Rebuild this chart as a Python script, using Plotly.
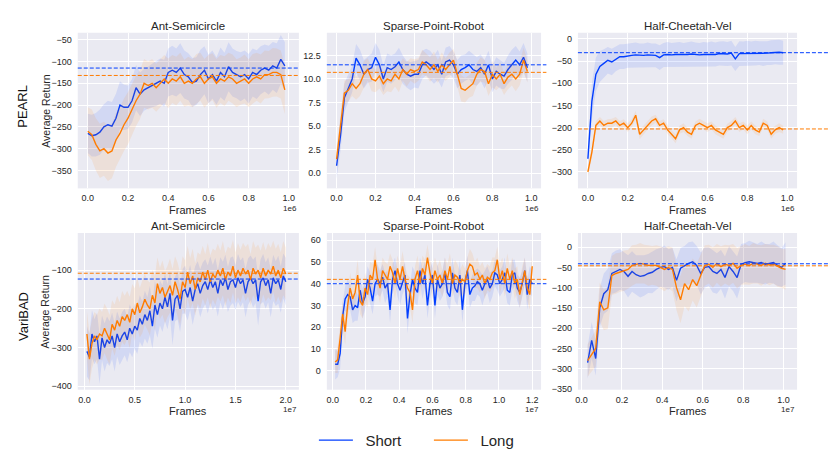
import numpy as np
import plotly.graph_objects as go

# ---- data ----
algos = ["PEARL", "VariBAD"]
envs = ["Ant-Semicircle", "Sparse-Point-Robot", "Half-Cheetah-Vel"]

# PEARL: frames in units of 1e6
frames_pearl = np.round(np.arange(50) * 0.02, 2)

pearl_ant_short = [-265, -270, -268, -262, -250, -245, -248, -230, -200, -205,
                   -205, -190, -160, -175, -165, -160, -155, -150, -145, -150,
                   -125, -120, -125, -115, -130, -135, -148, -145, -130, -120,
                   -140, -130, -145, -125, -135, -112, -125, -130, -135, -130,
                   -140, -125, -130, -120, -115, -120, -110, -115, -95, -110]
pearl_ant_long = [-260, -268, -290, -305, -300, -310, -305, -280, -265, -245,
                  -230, -210, -190, -175, -150, -155, -150, -160, -150, -140,
                  -150, -140, -145, -135, -150, -145, -150, -140, -135, -150,
                  -140, -135, -150, -140, -145, -135, -140, -150, -145, -140,
                  -150, -140, -135, -140, -130, -130, -125, -125, -130, -165]
pearl_ant_short_sd = [45, 48, 50, 52, 52, 55, 55, 56, 55, 52,
                      50, 50, 52, 50, 48, 48, 50, 52, 52, 54,
                      55, 56, 55, 57, 55, 54, 56, 55, 57, 55,
                      56, 55, 54, 57, 55, 56, 55, 54, 56, 55,
                      57, 55, 56, 55, 54, 56, 55, 57, 56, 55]
pearl_ant_long_sd = [55, 58, 60, 62, 62, 64, 63, 62, 60, 60,
                     60, 58, 58, 56, 56, 55, 56, 55, 56, 55,
                     57, 55, 56, 55, 54, 56, 55, 57, 55, 56,
                     55, 54, 56, 55, 57, 55, 56, 55, 54, 56,
                     55, 57, 55, 56, 55, 54, 56, 55, 55, 56]

pearl_sparse_short = [0.8, 4.0, 8.0, 9.0, 10.0, 12.2, 11.5, 10.5, 11.0, 11.2,
                      12.3, 11.5, 10.0, 11.2, 11.0, 11.3, 11.8, 11.0, 10.5, 10.3,
                      10.5, 10.5, 11.5, 11.8, 11.5, 11.0, 11.5, 10.5, 11.8, 12.0,
                      11.5, 10.5, 11.0, 11.2, 11.5, 11.0, 10.8, 11.2, 10.5, 11.5,
                      10.0, 10.8, 10.5, 10.3, 11.0, 11.5, 12.0, 11.5, 12.3, 11.2]
pearl_sparse_long = [1.5, 5.0, 8.5, 8.8, 9.5, 9.0, 9.5, 10.5, 11.0, 10.0,
                     9.8, 10.3, 9.5, 10.0, 9.8, 10.5, 10.0, 11.0, 10.5, 11.0,
                     10.8, 11.0, 11.8, 11.5, 11.0, 11.5, 10.8, 11.5, 11.0, 11.5,
                     12.0, 10.5, 9.0, 8.8, 9.2, 9.5, 10.5, 11.0, 10.8, 9.5,
                     10.5, 10.0, 10.5, 9.5, 10.2, 10.5, 10.0, 10.5, 12.0, 10.8]
pearl_sparse_short_sd = [1.4, 1.6, 1.5, 1.5, 1.4, 1.5, 1.6, 1.5, 1.4, 1.5,
                         1.5, 1.6, 1.4, 1.5, 1.5, 1.4, 1.5, 1.5, 1.4, 1.5,
                         1.4, 1.5, 1.5, 1.4, 1.5, 1.5, 1.6, 1.4, 1.5, 1.5,
                         1.4, 1.5, 1.5, 1.4, 1.5, 1.6, 1.5, 1.4, 1.5, 1.5,
                         1.4, 1.5, 1.5, 1.4, 1.5, 1.6, 1.5, 1.4, 1.5, 1.5]
pearl_sparse_long_sd = [1.2, 1.4, 1.3, 1.2, 1.3, 1.2, 1.3, 1.4, 1.2, 1.3,
                        1.2, 1.3, 1.2, 1.3, 1.2, 1.3, 1.4, 1.2, 1.3, 1.2,
                        1.3, 1.2, 1.3, 1.2, 1.3, 1.4, 1.2, 1.3, 1.2, 1.3,
                        1.2, 1.3, 1.4, 1.3, 1.2, 1.3, 1.2, 1.3, 1.2, 1.3,
                        1.4, 1.2, 1.3, 1.2, 1.3, 1.2, 1.3, 1.2, 1.3, 1.2]

pearl_cheetah_short = [-270, -140, -80, -62, -55, -48, -52, -45, -40, -40,
                       -38, -37, -36, -37, -37, -36, -37, -37, -42, -36,
                       -35, -36, -35, -35, -36, -35, -34, -35, -36, -35,
                       -35, -34, -35, -33, -33, -34, -32, -45, -33, -33,
                       -32, -33, -32, -32, -33, -32, -31, -30, -30, -31]
pearl_cheetah_long = [-300, -255, -195, -185, -195, -190, -190, -185, -195, -190,
                      -200, -190, -172, -215, -205, -195, -185, -180, -195, -190,
                      -205, -215, -225, -205, -200, -210, -215, -195, -190, -195,
                      -200, -195, -205, -210, -215, -200, -195, -185, -200, -195,
                      -205, -195, -205, -210, -190, -195, -215, -205, -200, -205]
pearl_cheetah_short_sd = [20, 40, 38, 35, 32, 30, 30, 28, 28, 28,
                          27, 27, 28, 27, 27, 28, 27, 27, 28, 27,
                          28, 27, 27, 28, 27, 27, 28, 27, 27, 28,
                          27, 28, 27, 27, 28, 27, 28, 27, 28, 27,
                          28, 27, 28, 27, 28, 27, 28, 27, 28, 27]
pearl_cheetah_long_sd = [10, 12, 10, 9, 10, 9, 10, 9, 10, 9,
                         10, 9, 10, 11, 10, 9, 10, 9, 10, 9,
                         10, 9, 10, 9, 10, 9, 10, 9, 10, 9,
                         10, 9, 10, 9, 10, 9, 10, 9, 10, 9,
                         10, 9, 10, 9, 10, 9, 10, 9, 10, 9]

# VariBAD: frames in units of 1e7
frames_varibad_ant = np.round(np.arange(1, 81) * 0.025, 3)
frames_varibad_sparse = np.round(np.arange(1, 81) * 0.015, 3)
frames_varibad_cheetah = np.round(0.03 + np.arange(50) * 0.02, 2)

varibad_ant_short = [-310, -325, -265, -285, -270, -330, -275, -300, -280, -290,
                     -270, -300, -265, -285, -270, -260, -280, -250, -265, -245,
                     -255, -225, -240, -215, -230, -205, -245, -190, -215, -185,
                     -200, -170, -195, -160, -230, -175, -165, -200, -155, -150,
                     -170, -145, -180, -150, -135, -160, -140, -130, -150, -125,
                     -145, -130, -160, -125, -140, -120, -150, -130, -125, -145,
                     -120, -135, -125, -160, -130, -120, -135, -125, -180, -130,
                     -120, -140, -125, -160, -120, -135, -125, -150, -115, -130]
varibad_ant_long = [-265, -330, -290, -270, -280, -265, -270, -250, -265, -280,
                    -240, -255, -230, -245, -220, -230, -215, -235, -200, -215,
                    -185, -210, -195, -175, -190, -200, -165, -185, -135, -160,
                    -145, -170, -155, -140, -165, -130, -150, -175, -130, -145,
                    -105, -135, -115, -150, -120, -130, -105, -125, -100, -130,
                    -110, -120, -100, -115, -95, -125, -105, -115, -90, -120,
                    -100, -115, -95, -110, -100, -125, -95, -110, -100, -120,
                    -95, -115, -100, -110, -90, -115, -100, -120, -95, -110]
varibad_ant_short_sd = [65, 60, 62, 58, 60, 64, 58, 62, 60, 58,
                        60, 62, 58, 60, 62, 60, 58, 62, 60, 58,
                        62, 60, 58, 62, 60, 64, 58, 62, 60, 58,
                        60, 62, 58, 60, 64, 58, 62, 60, 58, 62,
                        60, 58, 62, 60, 58, 62, 60, 58, 62, 60,
                        58, 62, 60, 58, 62, 60, 58, 62, 60, 58,
                        62, 60, 58, 62, 60, 58, 62, 60, 64, 58,
                        62, 60, 58, 62, 60, 58, 62, 60, 58, 62]
varibad_ant_long_sd = [60, 66, 64, 62, 64, 66, 62, 64, 66, 64,
                       62, 66, 64, 62, 66, 64, 62, 66, 64, 68,
                       66, 64, 68, 66, 64, 68, 66, 70, 68, 66,
                       70, 68, 66, 70, 68, 66, 70, 68, 66, 70,
                       68, 66, 70, 68, 66, 70, 68, 66, 70, 68,
                       66, 70, 68, 66, 70, 68, 66, 70, 68, 66,
                       70, 68, 66, 70, 68, 66, 70, 68, 66, 70,
                       68, 66, 70, 68, 66, 70, 68, 66, 70, 68]

varibad_sparse_short = [3, 3, 8, 25, 33, 35, 34, 28, 30, 29,
                        37, 31, 34, 42, 38, 32, 40, 42, 40, 43,
                        38, 40, 28, 42, 46, 40, 37, 41, 44, 24,
                        35, 42, 38, 36, 46, 40, 44, 30, 40, 44,
                        30, 42, 38, 40, 45, 36, 34, 45, 38, 36,
                        44, 28, 40, 46, 35, 38, 39, 41, 40, 37,
                        40, 42, 38, 40, 45, 44, 40, 42, 45, 37,
                        36, 44, 45, 38, 36, 40, 46, 35, 42, 40]
varibad_sparse_long = [4, 5, 15, 26, 18, 30, 38, 33, 36, 44,
                       32, 30, 38, 35, 44, 42, 51, 42, 38, 46,
                       44, 42, 48, 45, 40, 47, 42, 48, 42, 38,
                       36, 28, 42, 46, 40, 47, 44, 52, 45, 40,
                       46, 42, 44, 40, 46, 42, 48, 40, 44, 43,
                       40, 42, 41, 46, 49, 48, 44, 45, 42, 44,
                       40, 43, 42, 45, 46, 51, 42, 46, 40, 47,
                       42, 46, 40, 42, 35, 41, 46, 38, 35, 48]
varibad_sparse_short_sd = [7, 6, 7, 6, 6, 7, 6, 6, 7, 6,
                           6, 7, 6, 6, 7, 6, 6, 7, 6, 6,
                           7, 6, 6, 7, 6, 6, 7, 6, 6, 7,
                           6, 6, 7, 6, 6, 7, 6, 6, 7, 6,
                           6, 7, 6, 6, 7, 6, 6, 7, 6, 6,
                           7, 6, 6, 7, 6, 6, 7, 6, 6, 7,
                           6, 6, 7, 6, 6, 7, 6, 6, 7, 6,
                           6, 7, 6, 6, 7, 6, 6, 7, 6, 6]
varibad_sparse_long_sd = [5, 6, 6, 7, 6, 6, 7, 6, 6, 7,
                          6, 6, 7, 6, 6, 7, 6, 6, 7, 6,
                          6, 7, 6, 6, 7, 6, 6, 7, 6, 6,
                          7, 6, 6, 7, 6, 6, 7, 6, 6, 7,
                          6, 6, 7, 6, 6, 7, 6, 6, 7, 6,
                          6, 7, 6, 6, 7, 6, 6, 7, 6, 6,
                          7, 6, 6, 7, 6, 6, 7, 6, 6, 7,
                          6, 6, 7, 6, 6, 7, 6, 6, 7, 6]

varibad_cheetah_short = [-285, -230, -275, -150, -115, -105, -65, -60, -55, -60,
                         -72, -60, -68, -72, -70, -65, -62, -55, -50, -48,
                         -55, -50, -82, -52, -45, -40, -36, -45, -65, -50,
                         -48, -60, -65, -55, -75, -48, -60, -75, -42, -38,
                         -36, -38, -40, -38, -42, -40, -38, -45, -50, -40]
varibad_cheetah_long = [-280, -265, -250, -135, -155, -150, -70, -65, -62, -58,
                        -55, -45, -42, -40, -42, -45, -45, -45, -50, -55,
                        -50, -55, -100, -130, -90, -105, -80, -95, -70, -45,
                        -42, -50, -40, -48, -42, -45, -40, -52, -45, -42,
                        -45, -40, -42, -45, -40, -44, -42, -48, -52, -55]
varibad_cheetah_short_sd = [40, 45, 42, 48, 50, 52, 50, 52, 50, 48,
                            52, 50, 48, 52, 50, 48, 52, 50, 48, 52,
                            50, 48, 52, 50, 48, 52, 50, 48, 52, 50,
                            48, 52, 50, 48, 52, 50, 48, 52, 50, 48,
                            52, 50, 48, 52, 50, 48, 52, 50, 48, 52]
varibad_cheetah_long_sd = [40, 42, 45, 48, 50, 52, 48, 50, 48, 50,
                           48, 50, 48, 50, 48, 50, 48, 50, 52, 54,
                           52, 54, 56, 58, 56, 54, 52, 54, 52, 50,
                           48, 50, 48, 50, 48, 50, 48, 50, 48, 50,
                           48, 50, 48, 50, 48, 50, 48, 50, 48, 50]

# final (dashed) reference levels: [short, long]
ref_levels = [[-115, -132], [11.5, 10.7], [-31, -203],
              [-123, -108], [40, 42], [-41, -46]]

BLUE = "#023eff"
ORANGE = "#ff7c00"
FONT = "Liberation Sans, Arial, sans-serif"
TXT = "#262626"

panels = [
    (frames_pearl, pearl_ant_short, pearl_ant_short_sd, pearl_ant_long, pearl_ant_long_sd,
     [-0.05, 1.05], [-391, -34], 0.2, 50, "1e6"),
    (frames_pearl, pearl_sparse_short, pearl_sparse_short_sd, pearl_sparse_long, pearl_sparse_long_sd,
     [-0.05, 1.05], [-1.6, 14.9], 0.2, 2.5, "1e6"),
    (frames_pearl, pearl_cheetah_short, pearl_cheetah_short_sd, pearl_cheetah_long, pearl_cheetah_long_sd,
     [-0.05, 1.05], [-337, 14], 0.2, 50, "1e6"),
    (frames_varibad_ant, varibad_ant_short, varibad_ant_short_sd, varibad_ant_long, varibad_ant_long_sd,
     [-0.066, 2.13], [-409, -4], 0.5, 100, "1e7"),
    (frames_varibad_sparse, varibad_sparse_short, varibad_sparse_short_sd, varibad_sparse_long, varibad_sparse_long_sd,
     [-0.035, 1.253], [-8.7, 63.3], 0.2, 10, "1e7"),
    (frames_varibad_cheetah, varibad_cheetah_short, varibad_cheetah_short_sd, varibad_cheetah_long, varibad_cheetah_long_sd,
     [-0.018, 1.067], [-352, 35], 0.2, 50, "1e7"),
]

col_x = [(0.0904, 0.3578), (0.3916, 0.6506), (0.6952, 0.9602)]
row_y = [(0.5983, 0.9302), (0.1691, 0.5032)]
dash_end = [1.0, 1.025, 1.15]

fig = go.Figure()
layout = dict(
    width=830, height=473,
    margin=dict(l=0, r=0, t=0, b=0),
    paper_bgcolor="white",
    plot_bgcolor="#EAEAF2",
    font=dict(family=FONT, color=TXT),
    showlegend=True,
    legend=dict(orientation="h", x=0.515, xanchor="center", y=0.061, yanchor="middle",
                font=dict(size=15, color=TXT), bgcolor="rgba(0,0,0,0)",
                itemwidth=34, entrywidth=66, tracegroupgap=0),
)
annotations = []
shapes = []

for i, (fx, s, s_sd, l, l_sd, xr, yr, xd, yd, scale) in enumerate(panels):
    r, c = divmod(i, 3)
    k = "" if i == 0 else str(i + 1)
    xa, ya = "x" + k, "y" + k
    fx = np.asarray(fx)
    for name, mean, sd, color, rgb in [("Short", s, s_sd, BLUE, "2,62,255"),
                                        ("Long", l, l_sd, ORANGE, "255,124,0")]:
        mean = np.asarray(mean, float)
        sd = np.asarray(sd, float)
        fig.add_trace(go.Scatter(
            x=np.concatenate([fx, fx[::-1]]),
            y=np.concatenate([mean + sd, (mean - sd)[::-1]]),
            fill="toself", fillcolor="rgba(%s,0.10)" % rgb,
            line=dict(width=0), mode="lines", hoverinfo="skip",
            showlegend=False, xaxis=xa, yaxis=ya))
        fig.add_trace(go.Scatter(
            x=fx, y=mean, mode="lines", name="\u2002" + name,
            line=dict(color=color, width=1.4),
            showlegend=(i == 0), xaxis=xa, yaxis=ya))
    for lvl, color in zip(ref_levels[i], [BLUE, ORANGE]):
        shapes.append(dict(type="line", xref=xa + " domain", yref=ya,
                           x0=0, x1=dash_end[c], y0=lvl, y1=lvl,
                           line=dict(color=color, width=1, dash="4px,2px")))

    layout["xaxis" + k] = dict(
        domain=list(col_x[c]), anchor=ya, range=xr, dtick=xd, tick0=0,
        tickformat=".1f", showgrid=True, gridcolor="white", gridwidth=1,
        zeroline=False, showline=False, ticks="", tickfont=dict(size=9, color=TXT),
        ticklabelstandoff=3)
    layout["yaxis" + k] = dict(
        domain=list(row_y[r]), anchor=xa, range=yr, dtick=yd, tick0=0,
        tickformat=(".1f" if yd == 2.5 else "d"),
        showgrid=True, gridcolor="white", gridwidth=1,
        zeroline=False, showline=False, ticks="", tickfont=dict(size=9, color=TXT),
        ticklabelstandoff=5)

    x_mid = (col_x[c][0] + col_x[c][1]) / 2
    annotations.append(dict(text=envs[c], x=x_mid, y=row_y[r][1] - 0.003,
                            xref="paper", yref="paper", xanchor="center", yanchor="bottom",
                            showarrow=False, font=dict(size=11.5, color=TXT)))
    annotations.append(dict(text="Frames", x=x_mid, y=row_y[r][0] - 0.046,
                            xref="paper", yref="paper", xanchor="center", yanchor="middle",
                            showarrow=False, font=dict(size=11, color=TXT)))
    annotations.append(dict(text=scale, x=col_x[c][1], y=row_y[r][0] - 0.028,
                            xref="paper", yref="paper", xanchor="right", yanchor="top",
                            showarrow=False, font=dict(size=8, color=TXT)))
    if c == 0:
        y_mid = (row_y[r][0] + row_y[r][1]) / 2
        annotations.append(dict(text="Average Return", x=0.051, y=y_mid,
                                xref="paper", yref="paper", xanchor="center", yanchor="middle",
                                textangle=-90, showarrow=False, font=dict(size=10.5, color=TXT)))
        annotations.append(dict(text=algos[r], x=0.024, y=y_mid + (0.01 if r == 0 else -0.01),
                                xref="paper", yref="paper", xanchor="center", yanchor="middle",
                                textangle=-90, showarrow=False, font=dict(size=13, color="#111111")))

layout["annotations"] = annotations
layout["shapes"] = shapes
fig.update_layout(**layout)
# the page's default body margin would shift the fixed-size figure
fig.write_html("out.html", config={"displayModeBar": False},
               post_script="document.body.style.margin='0';")
